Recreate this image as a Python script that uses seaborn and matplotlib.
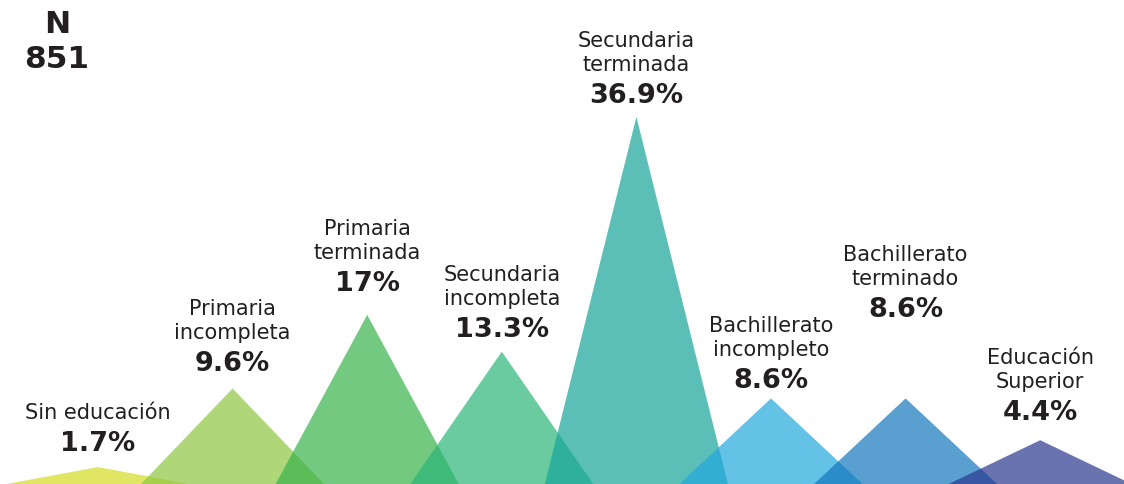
import matplotlib
matplotlib.use("Agg")
import matplotlib.pyplot as plt
import seaborn as sns
import numpy as np

# ---- data ----
categories = ["Sin educación", "Primaria\nincompleta", "Primaria\nterminada",
              "Secundaria\nincompleta", "Secundaria\nterminada",
              "Bachillerato\nincompleto", "Bachillerato\nterminado",
              "Educación\nSuperior"]
values = [1.7, 9.6, 17.0, 13.3, 36.9, 8.6, 8.6, 4.4]
value_labels = ["1.7%", "9.6%", "17%", "13.3%", "36.9%", "8.6%", "8.6%", "4.4%"]
n_total = 851

# ---- style ----
displayed = [(224, 229, 101), (176, 215, 122), (116, 201, 129), (106, 203, 159),
             (91, 192, 185), (101, 194, 232), (89, 159, 208), (106, 116, 176)]
ALPHA = 0.7
palette = sns.color_palette([tuple(max(0, min(1, (c / 255 - (1 - ALPHA)) / ALPHA)) for c in col)
                             for col in displayed])
label_offsets_px = [16, 17, 24, 15, 14, 10, 81, 20]

sns.set_theme(style="white")
plt.rcParams["font.family"] = ["DejaVu Sans"]

fig = plt.figure(figsize=(11.24, 4.84), dpi=100)
ax = fig.add_axes([0, 0, 1, 1])

half_w = 0.68
for i, (v, col) in enumerate(zip(values, palette)):
    ax.fill([i - half_w, i, i + half_w], [0, v, 0], color=col, alpha=ALPHA, lw=0)

step = 134.6
ax.set_xlim(-98 / step, (1124 - 98) / step)
ax.set_ylim(0, 484 / 9.95)
ax.axis("off")

txt = "#231f20"
for i, (cat, v, lab, off) in enumerate(zip(categories, values, value_labels, label_offsets_px)):
    ax.annotate(lab, (i, v), xytext=(0, off), textcoords="offset pixels",
                ha="center", va="baseline", fontsize=19.5, fontweight="bold", color=txt)
    ax.annotate(cat, (i, v), xytext=(0, off + 32), textcoords="offset pixels",
                ha="center", va="baseline", fontsize=15, color=txt,
                linespacing=1.25, multialignment="center")

fig.text(57 / 1124, 1 - 33 / 484, "N", ha="center", va="baseline",
         fontsize=22.5, fontweight="bold", color=txt)
fig.text(57 / 1124, 1 - 68 / 484, str(n_total), ha="center", va="baseline",
         fontsize=22.5, fontweight="bold", color=txt)

fig.savefig("out.png", dpi=100, facecolor="white")
